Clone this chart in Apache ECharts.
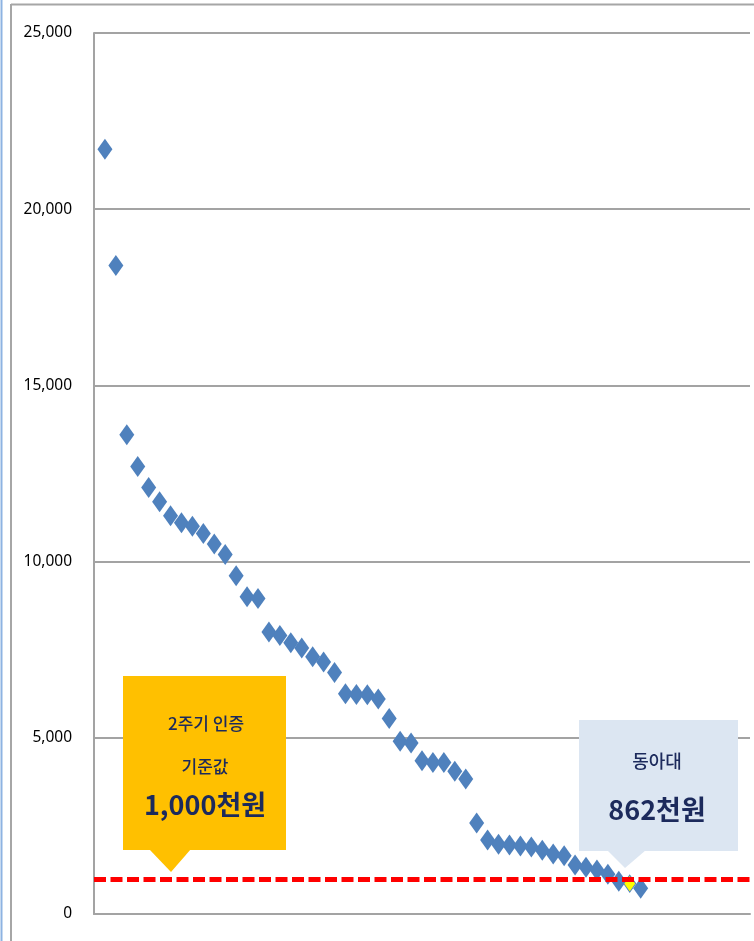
<!DOCTYPE html>
<html>
<head>
<meta charset="utf-8">
<script src="https://cdn.jsdelivr.net/npm/echarts@6/dist/echarts.min.js"></script>
<style>
html,body{margin:0;padding:0;background:#fff;}
#chart{width:754px;height:941px;}
</style>
</head>
<body>
<div id="chart"></div>
<script>
// 기관별 금액 (천원), 내림차순
var amounts = [21700, 18400, 13600, 12700, 12100, 11700, 11300, 11100, 11000, 10800,
               10500, 10200, 9600, 9000, 8950, 8000, 7900, 7700, 7550, 7300,
               7150, 6850, 6250, 6230, 6220, 6100, 5550, 4900, 4850, 4350,
               4300, 4300, 4050, 3830, 2580, 2100, 1980, 1960, 1930, 1900,
               1810, 1700, 1650, 1390, 1330, 1250, 1130, 930, 862, 730];
var highlightIndex = 48;   // 동아대
var threshold = 1000;      // 2주기 인증 기준값
var yTicks = [0, 5000, 10000, 15000, 20000, 25000];

var points = [];
for (var i = 0; i < amounts.length; i++) {
    if (i !== highlightIndex) points.push([i + 1, amounts[i]]);
}
var highlight = [[highlightIndex + 1, amounts[highlightIndex]]];

var chart = echarts.init(document.getElementById('chart'));
var navy = '#1c2a5c';

chart.setOption({
    animation: false,
    grid: {left: 94, top: 33, right: 4, bottom: 27},
    xAxis: {
        type: 'value',
        min: 0,
        max: 60,
        axisLine: {show: true, lineStyle: {color: '#a3a3a3', width: 2}},
        axisTick: {show: false},
        axisLabel: {show: false},
        splitLine: {show: false}
    },
    yAxis: {
        type: 'value',
        min: yTicks[0],
        max: yTicks[yTicks.length - 1],
        interval: 5000,
        axisLine: {show: true, lineStyle: {color: '#a3a3a3', width: 2}},
        axisTick: {show: false},
        axisLabel: {
            margin: 22,
            color: '#000',
            fontSize: 15.5,
            fontFamily: 'Noto Sans',
            formatter: function (v) {
                return String(v).replace(/\B(?=(\d{3})+(?!\d))/g, ',');
            }
        },
        splitLine: {lineStyle: {color: '#a3a3a3', width: 2}}
    },
    series: [
        {
            type: 'scatter',
            symbol: 'diamond',
            symbolSize: [15, 21],
            itemStyle: {color: '#4f81bd', opacity: 1},
            data: points,
            z: 2
        },
        {
            type: 'scatter',
            data: [],
            z: 3,
            markLine: {
                silent: true,
                symbol: 'none',
                label: {show: false},
                lineStyle: {color: '#ff0000', width: 5, type: [12, 4.5], opacity: 1},
                data: [{yAxis: threshold}]
            }
        },
        {
            type: 'scatter',
            symbol: 'diamond',
            symbolSize: [12, 17],
            itemStyle: {color: '#ffff00', borderColor: '#4f81bd', borderWidth: 1, opacity: 1},
            data: highlight,
            z: 4
        }
    ],
    graphic: [
        // outer frame
        {type: 'line', shape: {x1: 1.5, y1: 0, x2: 1.5, y2: 941}, style: {stroke: '#8db3e2', lineWidth: 2}, z: 100},
        {type: 'line', shape: {x1: 11, y1: 4, x2: 11, y2: 941}, style: {stroke: '#a6a6a6', lineWidth: 2}, z: 100},
        {type: 'line', shape: {x1: 11, y1: 4.5, x2: 754, y2: 4.5}, style: {stroke: '#a6a6a6', lineWidth: 2}, z: 100},
        // 기준값 callout
        {type: 'rect', shape: {x: 123, y: 676, width: 163, height: 174}, style: {fill: '#ffc000'}, z: 100},
        {type: 'polygon', shape: {points: [[149, 849], [191, 849], [171, 872]]}, style: {fill: '#ffc000'}, z: 100},
        {type: 'text', x: 206, y: 724, style: {text: '2주기 인증', fill: navy, font: '500 17px "Noto Sans CJK KR"', textAlign: 'center', textVerticalAlign: 'middle'}, z: 101},
        {type: 'text', x: 205, y: 767, style: {text: '기준값', fill: navy, font: '500 17px "Noto Sans CJK KR"', textAlign: 'center', textVerticalAlign: 'middle'}, z: 101},
        {type: 'text', x: 205, y: 805, style: {text: '1,000천원', fill: navy, font: 'bold 27px "Noto Sans CJK KR"', textAlign: 'center', textVerticalAlign: 'middle'}, z: 101},
        // 동아대 callout
        {type: 'rect', shape: {x: 579, y: 720, width: 159, height: 131}, style: {fill: '#dce6f2'}, z: 100},
        {type: 'polygon', shape: {points: [[607, 850], [646, 850], [625, 868]]}, style: {fill: '#dce6f2'}, z: 100},
        {type: 'text', x: 657, y: 761, style: {text: '동아대', fill: navy, font: '500 18px "Noto Sans CJK KR"', textAlign: 'center', textVerticalAlign: 'middle'}, z: 101},
        {type: 'text', x: 657, y: 810, style: {text: '862천원', fill: navy, font: 'bold 27px "Noto Sans CJK KR"', textAlign: 'center', textVerticalAlign: 'middle'}, z: 101}
    ]
});
</script>
</body>
</html>
